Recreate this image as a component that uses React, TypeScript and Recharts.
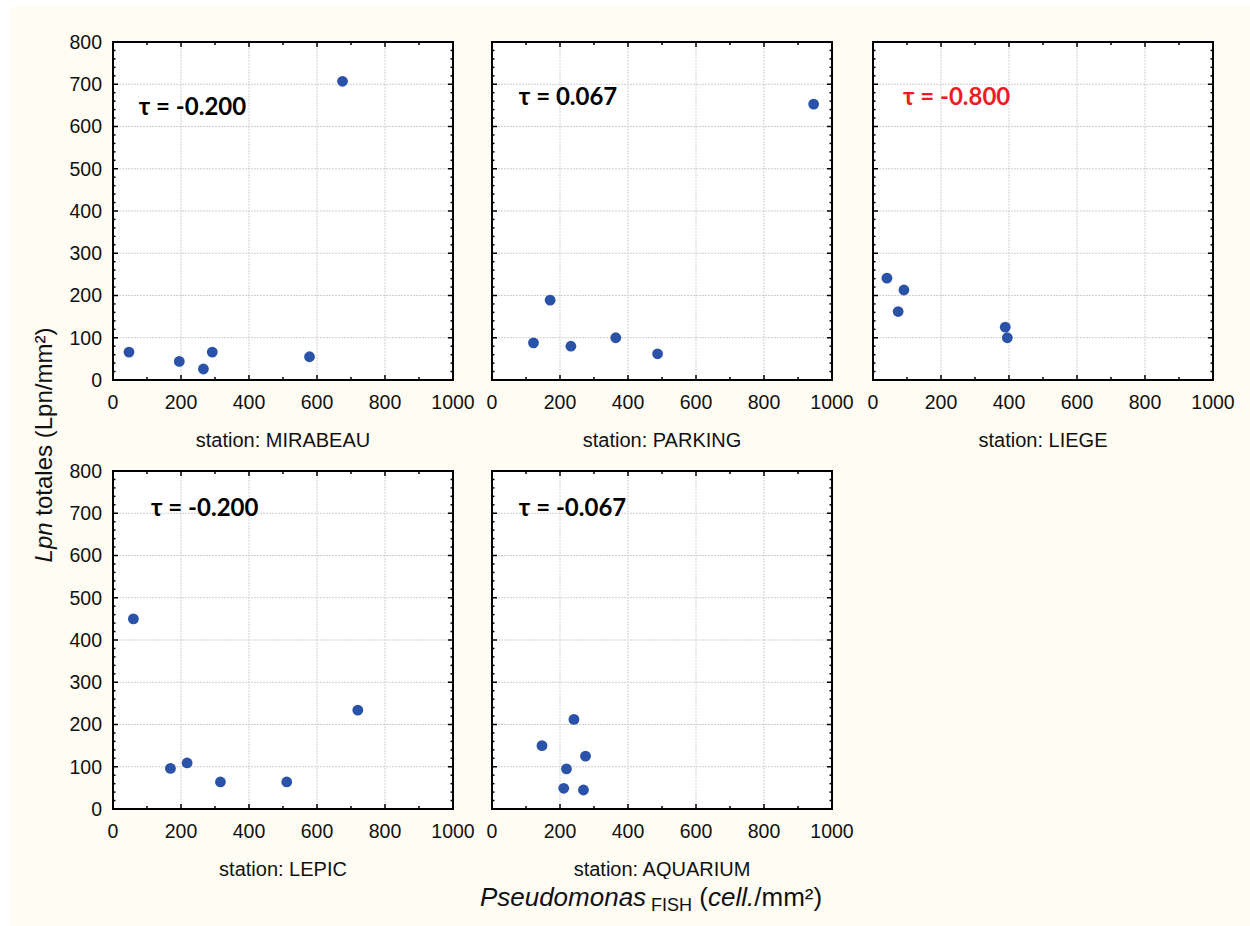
import React from 'react';
import { ScatterChart, Scatter, XAxis, YAxis, CartesianGrid, ReferenceArea, ReferenceDot } from 'recharts';

// stations, one panel each (row by row)
const STATIONS = ['MIRABEAU', 'PARKING', 'LIEGE', 'LEPIC', 'AQUARIUM'];

// Pseudomonas FISH (cell./mm²) vs Lpn totales (Lpn/mm²)
const MIRABEAU_X = [47, 195, 266, 292, 578, 675];
const MIRABEAU_Y = [66, 44, 26, 66, 55, 707];
const PARKING_X = [122, 171, 232, 364, 487, 946];
const PARKING_Y = [88, 189, 80, 100, 62, 653];
const LIEGE_X = [41, 91, 74, 389, 395];
const LIEGE_Y = [241, 213, 162, 125, 100];
const LEPIC_X = [60, 169, 218, 316, 511, 720];
const LEPIC_Y = [450, 96, 109, 64, 64, 234];
const AQUARIUM_X = [147, 241, 275, 219, 211, 269];
const AQUARIUM_Y = [150, 212, 125, 95, 49, 45];

// Kendall tau per station
const TAU = [-0.2, 0.067, -0.8, -0.2, -0.067];

const X_MAJOR = [0, 200, 400, 600, 800, 1000];
const Y_MAJOR = [0, 100, 200, 300, 400, 500, 600, 700, 800];
const X_TICKS = Array.from({ length: 11 }, (_, i) => i * 100);
const Y_TICKS = Array.from({ length: 41 }, (_, i) => i * 20);

const SERIES = [
  [MIRABEAU_X, MIRABEAU_Y],
  [PARKING_X, PARKING_Y],
  [LIEGE_X, LIEGE_Y],
  [LEPIC_X, LEPIC_Y],
  [AQUARIUM_X, AQUARIUM_Y],
].map(([xs, ys]) => xs.map((x, i) => ({ x, y: ys[i] })));

// where the tau annotation starts, in data units
const TAU_POS = [
  { x: 76, y: 648 },
  { x: 79, y: 672 },
  { x: 88, y: 672 },
  { x: 112, y: 713 },
  { x: 79, y: 713 },
];

const PLOT_W = 340;
const PLOT_H = 338;
const COL_LEFT = [113, 492, 873];
const ROW_TOP = [42, 471];
const ML = 60;
const MT = 20;
const AXIS_H = 70;

const DOT = '#2a52a8';
const FONT = "Arial, 'Liberation Sans', sans-serif";

const XTick = (props: any) => {
  const { x, y, payload } = props;
  const v = payload.value;
  const major = v % 200 === 0;
  const len = major ? 5 : 3;
  return (
    <g>
      <line x1={x} y1={y} x2={x} y2={y - len} stroke="#000" strokeWidth={1.5} />
      <line x1={x} y1={y - PLOT_H} x2={x} y2={y - PLOT_H + len} stroke="#000" strokeWidth={1.5} />
      {major && (
        <text x={x} y={y + 28.5} textAnchor="middle" fontSize={19.5} fontFamily={FONT} fill="#111">
          {v}
        </text>
      )}
    </g>
  );
};

const YTick = (props: any) => {
  const { x, y, payload, showLabels } = props;
  const v = payload.value;
  const major = v % 100 === 0;
  const len = major ? 5 : 2.5;
  return (
    <g>
      <line x1={x} y1={y} x2={x + len} y2={y} stroke="#000" strokeWidth={1.5} />
      <line x1={x + PLOT_W} y1={y} x2={x + PLOT_W - len} y2={y} stroke="#000" strokeWidth={1.5} />
      {major && showLabels && (
        <text x={x - 11} y={y} dy="0.355em" textAnchor="end" fontSize={19.5} fontFamily={FONT} fill="#111">
          {v}
        </text>
      )}
    </g>
  );
};

const Panel = ({ idx }: { idx: number }) => {
  const col = idx % 3;
  const row = Math.floor(idx / 3);
  const tau = TAU[idx];
  const tauColor = Math.abs(tau) >= 0.8 ? '#ee1c25' : '#000';
  return (
    <div style={{ position: 'absolute', left: COL_LEFT[col] - ML, top: ROW_TOP[row] - MT }}>
      <ScatterChart width={ML + PLOT_W + 30} height={MT + PLOT_H + AXIS_H} margin={{ top: MT, right: 30, bottom: 0, left: 0 }}>
        <CartesianGrid
          horizontalValues={Y_MAJOR}
          verticalValues={X_MAJOR}
          stroke="#cfcfcf"
          strokeDasharray="2 1"
          fill="#fff"
          fillOpacity={1}
        />
        <XAxis
          type="number"
          dataKey="x"
          domain={[0, 1000]}
          ticks={X_TICKS}
          interval={0}
          tickSize={0}
          tickMargin={0}
          tickLine={false}
          axisLine={false}
          height={AXIS_H}
          tick={(p: any) => <XTick {...p} />}
          label={{ value: `station: ${STATIONS[idx]}`, position: 'insideBottom', offset: 3, fontSize: 20, fontFamily: FONT, fill: '#111' }}
        />
        <YAxis
          type="number"
          dataKey="y"
          domain={[0, 800]}
          ticks={Y_TICKS}
          interval={0}
          tickSize={0}
          tickMargin={0}
          tickLine={false}
          axisLine={false}
          width={ML}
          tick={(p: any) => <YTick {...p} showLabels={col === 0} />}
        />
        <ReferenceArea x1={0} x2={1000} y1={0} y2={800} fill="none" stroke="#000" strokeWidth={2} />
        <ReferenceDot
          x={TAU_POS[idx].x}
          y={TAU_POS[idx].y}
          r={0}
          fill="none"
          stroke="none"
          label={{
            value: `τ = ${tau.toFixed(3)}`,
            position: 'right',
            offset: 0,
            fill: tauColor,
            fontSize: 24,
            fontWeight: 700,
            fontFamily: 'Lato, sans-serif',
          }}
        />
        <Scatter
          data={SERIES[idx]}
          isAnimationActive={false}
          shape={(p: any) => <circle cx={p.cx} cy={p.cy} r={5.4} fill={DOT} />}
        />
      </ScatterChart>
    </div>
  );
};

export default function App() {
  return (
    <div style={{ position: 'relative', width: 1250, height: 926, background: '#fff', overflow: 'hidden' }}>
      <style>{'body{margin:0}'}</style>
      <div style={{ position: 'absolute', left: 11, top: 6, right: 0, bottom: 0, background: '#fffcf3' }} />
      {STATIONS.map((s, i) => (
        <Panel key={s} idx={i} />
      ))}
      <svg width={1250} height={926} style={{ position: 'absolute', left: 0, top: 0, pointerEvents: 'none' }}>
        <text transform="rotate(-90)" x={-445} y={52} textAnchor="middle" fontSize={24} fontFamily={FONT} fill="#111">
          <tspan fontStyle="italic">Lpn</tspan>
          <tspan>{' totales (Lpn/mm²)'}</tspan>
        </text>
        <text x={651} y={906} textAnchor="middle" fontSize={26} fontFamily={FONT} fill="#111">
          <tspan fontStyle="italic">Pseudomonas</tspan>
          <tspan fontSize={18} dy={5}>{' FISH'}</tspan>
          <tspan dy={-5}>{' ('}</tspan>
          <tspan fontStyle="italic">cell.</tspan>
          <tspan>{'/mm²)'}</tspan>
        </text>
      </svg>
    </div>
  );
}
